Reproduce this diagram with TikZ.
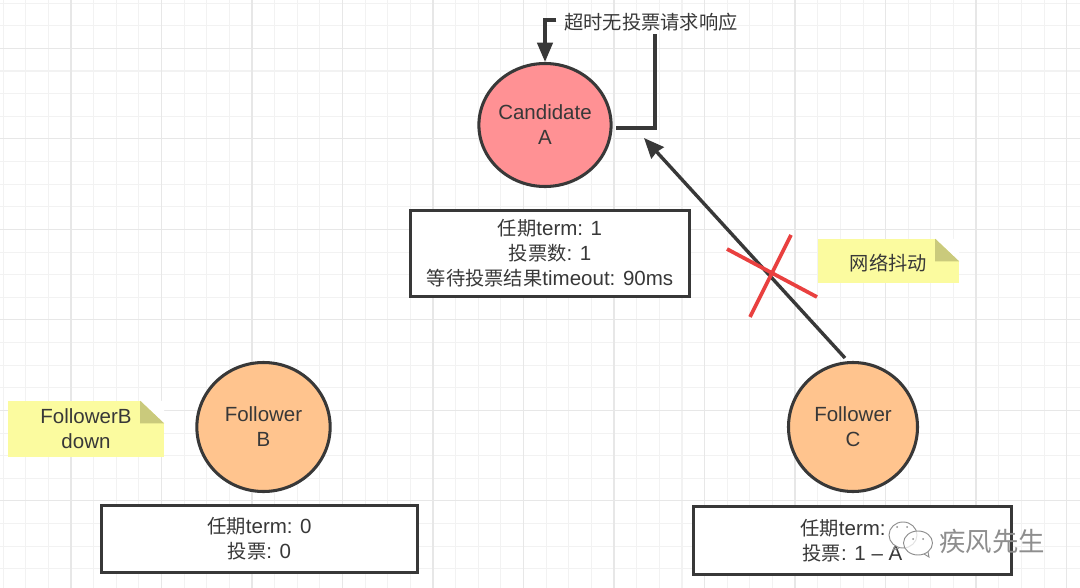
\documentclass[tikz,border=0pt]{standalone}
\usepackage{fontspec}
\setmainfont{Liberation Sans}
\newfontfamily\cjk[Scale=0.94]{Noto Sans CJK SC}
\newcommand{\zh}[1]{{\cjk #1}}
\usetikzlibrary{arrows.meta}
\usetikzlibrary{shapes.geometric}

\definecolor{inkcol}{HTML}{383838}
\definecolor{gridminor}{HTML}{F2F2F2}
\definecolor{gridmajor}{HTML}{E7E7E7}
\definecolor{candcol}{HTML}{FF9194}
\definecolor{followcol}{HTML}{FFC48E}
\definecolor{notecol}{HTML}{FBFB9F}
\definecolor{foldcol}{HTML}{CACA7C}
\definecolor{crosscol}{HTML}{E9403F}
\definecolor{markcol}{HTML}{8E8E8E}

\tikzset{
  base font/.style={font=\fontsize{17.5}{21.3}\selectfont,text=black!78,align=center,execute at begin node={\rule{0pt}{18pt}}},
  role/.style={ellipse,draw=inkcol,line width=2.6pt,inner sep=0pt,base font},
  infobox/.style={rectangle,draw=inkcol,line width=2.8pt,fill=white,inner sep=0pt,base font},
  stickynote/.style={rectangle,fill=notecol,inner sep=0pt,base font},
  link/.style={draw=inkcol,line width=2.9pt},
  crossline/.style={draw=crosscol,line width=3.2pt},
  bubble/.style={draw=markcol,line width=0.8pt,fill=white,fill opacity=0.75},
}
% folded corner of a note
\newcommand{\foldcorner}[1]{
  \fill[white] ([xshift=-0.72cm]#1.north east) -- (#1.north east) -- ([yshift=-0.68cm]#1.north east) -- cycle;
  \fill[foldcol] ([xshift=-0.72cm]#1.north east) -- ([xshift=-0.72cm,yshift=-0.68cm]#1.north east) -- ([yshift=-0.68cm]#1.north east) -- cycle;
}

\begin{document}
\begin{tikzpicture}[x=0.03cm,y=-0.03cm,>=Stealth]
\useasboundingbox (0,0) rectangle (1080,588);
\fill[white] (0,0) rectangle (1080,588);
% background grid
\foreach \i in {0,...,47} {
  \pgfmathsetmacro{\gx}{3.1+22.63*\i}
  \draw[gridminor,line width=0.9pt] (\gx,0) -- (\gx,588);
}
\foreach \i in {0,...,25} {
  \pgfmathsetmacro{\gy}{3.1+22.63*\i}
  \draw[gridminor,line width=0.9pt] (0,\gy) -- (1080,\gy);
}
\foreach \i in {0,...,11} {
  \pgfmathsetmacro{\gx}{71+90.5*\i}
  \draw[gridmajor,line width=0.9pt] (\gx,0) -- (\gx,588);
}
\foreach \i in {0,...,5} {
  \pgfmathsetmacro{\gy}{48.2+90.5*\i}
  \draw[gridmajor,line width=0.9pt] (0,\gy) -- (1080,\gy);
}
% the three servers
\node[role,fill=candcol,minimum width=3.93cm,minimum height=3.69cm] (candidate) at (545,125) {Candidate\\A};
\node[role,fill=followcol,minimum width=4.0cm,minimum height=3.87cm] (followerB) at (263.5,427) {Follower\\B};
\node[role,fill=followcol,minimum width=3.87cm,minimum height=3.87cm] (followerC) at (853,427) {Follower\\C};
% state boxes
\node[infobox,minimum width=8.37cm,minimum height=2.58cm] (stateA) at (550,253.5) {\zh{任期}term: 1\\\zh{投票数}: 1\\\zh{等待投票结果}timeout: 90ms};
\node[infobox,minimum width=9.5cm,minimum height=2.01cm] (stateB) at (259.5,539) {\zh{任期}term: 0\\\zh{投票}: 0};
\node[infobox,minimum width=9.54cm,minimum height=2.04cm] (stateC) at (852.5,540.5) {\zh{任期}term: \phantom{1}\\\zh{投票}: 1 -- A};
% notes
\node[stickynote,minimum width=4.68cm,minimum height=1.68cm] (noteB) at (86,429) {FollowerB\\down};
\foldcorner{noteB}
\node[stickynote,minimum width=4.23cm,minimum height=1.32cm] (noteC) at (888.5,261) {\zh{网络抖动}};
\foldcorner{noteC}
% election timeout loop
\node[base font,inner sep=0pt,minimum width=5.3cm,minimum height=0.84cm] (timeout) at (651,20) {\zh{超时无投票请求响应}};
\coordinate (loopstart) at (616,128);
\coordinate (loopturn) at (655,128);
\draw[link] (loopstart) -- (loopturn) -- (loopturn |- timeout.south);
\draw[link,-{Stealth[length=0.58cm,width=0.46cm,inset=0pt]}] ([xshift=-0.18cm]timeout.west) -| (candidate.north);
% request from C to A, cut by the network
\coordinate (votefrom) at (845,358);
\coordinate (voteto) at (644,138);
\draw[link,-{Stealth[length=0.6cm,width=0.5cm,inset=1pt]}] (votefrom) -- (voteto);
\coordinate (crossa) at (727,249);
\coordinate (crossb) at (817,297);
\coordinate (crossc) at (791,235);
\coordinate (crossd) at (750,317);
\draw[crossline] (crossa) -- (crossb);
\draw[crossline] (crossc) -- (crossd);
% watermark
\draw[bubble] (903,535) ellipse (14 and 13);
\draw[markcol,line width=0.8pt] (895,546) -- (893,550) -- (899,548);
\draw[bubble] (918,543) ellipse (14.5 and 12);
\draw[markcol,line width=0.8pt] (924,554) -- (929,557) -- (928,552);
\fill[markcol] (897,527) circle (1);
\fill[markcol] (907,527) circle (1);
\fill[markcol] (913,539) circle (1);
\fill[markcol] (923,539) circle (1);
\node[font=\fontsize{24}{26}\selectfont\cjk,text=markcol,inner sep=0pt] (mark) at (992,541) {疾风先生};
\end{tikzpicture}
\end{document}
